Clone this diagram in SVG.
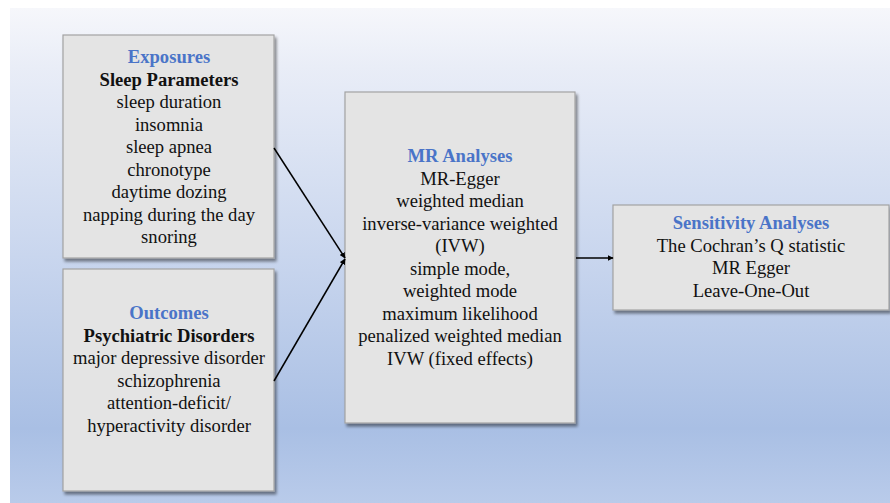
<svg xmlns="http://www.w3.org/2000/svg" width="890" height="503" viewBox="0 0 890 503">
<defs>
<linearGradient id="bg" x1="0" y1="0" x2="0" y2="1">
<stop offset="0" stop-color="#f6f7fb"/>
<stop offset="0.12" stop-color="#e9edf7"/>
<stop offset="0.5" stop-color="#c9d6ee"/>
<stop offset="0.85" stop-color="#a9bfe4"/>
<stop offset="1" stop-color="#b9cbea"/>
</linearGradient>
<filter id="sh" x="-5%" y="-5%" width="115%" height="115%">
<feGaussianBlur in="SourceAlpha" stdDeviation="1.5"/>
<feOffset dx="2" dy="3" result="o"/>
<feComponentTransfer><feFuncA type="linear" slope="0.45"/></feComponentTransfer>
<feMerge><feMergeNode/><feMergeNode in="SourceGraphic"/></feMerge>
</filter>
<marker id="ah" viewBox="0 0 10 10" refX="9" refY="5" markerWidth="6" markerHeight="6" markerUnits="userSpaceOnUse" orient="auto">
<path d="M0,0 L10,5 L0,10 z" fill="#000"/>
</marker>
</defs>
<style>
.box{fill:#e4e4e4;stroke:#a3a3a3;stroke-width:1.2;filter:url(#sh)}
.tx{font-family:'Liberation Serif','DejaVu Serif',serif;font-size:18.6px;fill:#111;text-anchor:middle}
.t{fill:#4a74c8;font-weight:bold}
.b{font-weight:bold}
.ln{stroke:#000;stroke-width:1.5;fill:none;marker-end:url(#ah)}
</style>
<rect x="0" y="0" width="890" height="503" fill="#fff"/>
<rect x="10" y="8" width="880" height="495" fill="url(#bg)"/>

<g id="exposures">
<rect class="box" x="63" y="35" width="211" height="223"/>
<g class="tx">
<text x="169" y="63" class="t">Exposures</text>
<text x="169" y="85.5" class="b">Sleep Parameters</text>
<text x="169" y="108">sleep duration</text>
<text x="169" y="130.5">insomnia</text>
<text x="169" y="153">sleep apnea</text>
<text x="169" y="175.5">chronotype</text>
<text x="169" y="198">daytime dozing</text>
<text x="169" y="220.5">napping during the day</text>
<text x="169" y="243">snoring</text>
</g>
</g>

<g id="outcomes">
<rect class="box" x="63" y="269" width="211" height="222"/>
<g class="tx">
<text x="169" y="319" class="t">Outcomes</text>
<text x="169" y="341.5" class="b">Psychiatric Disorders</text>
<text x="169" y="364">major depressive disorder</text>
<text x="169" y="386.5">schizophrenia</text>
<text x="169" y="409">attention-deficit/</text>
<text x="169" y="431.5">hyperactivity disorder</text>
</g>
</g>

<g id="mr">
<rect class="box" x="345" y="92" width="230" height="331"/>
<g class="tx">
<text x="460" y="162" class="t">MR Analyses</text>
<text x="460" y="184.5">MR-Egger</text>
<text x="460" y="207">weighted median</text>
<text x="460" y="229.5">inverse-variance weighted</text>
<text x="460" y="252">(IVW)</text>
<text x="460" y="274.5">simple mode,</text>
<text x="460" y="297">weighted mode</text>
<text x="460" y="319.5">maximum likelihood</text>
<text x="460" y="342">penalized weighted median</text>
<text x="460" y="364.5">IVW (fixed effects)</text>
</g>
</g>

<g id="sensitivity">
<rect class="box" x="613" y="205" width="276" height="105"/>
<g class="tx">
<text x="751" y="229" class="t">Sensitivity Analyses</text>
<text x="751" y="251.5">The Cochran’s Q statistic</text>
<text x="751" y="274">MR Egger</text>
<text x="751" y="296.5">Leave-One-Out</text>
</g>
</g>

<g id="connectors">
<line class="ln" x1="274" y1="148" x2="345" y2="258"/>
<line class="ln" x1="274" y1="381" x2="345" y2="259"/>
<line class="ln" x1="576" y1="258" x2="613" y2="258"/>
</g>
</svg>
